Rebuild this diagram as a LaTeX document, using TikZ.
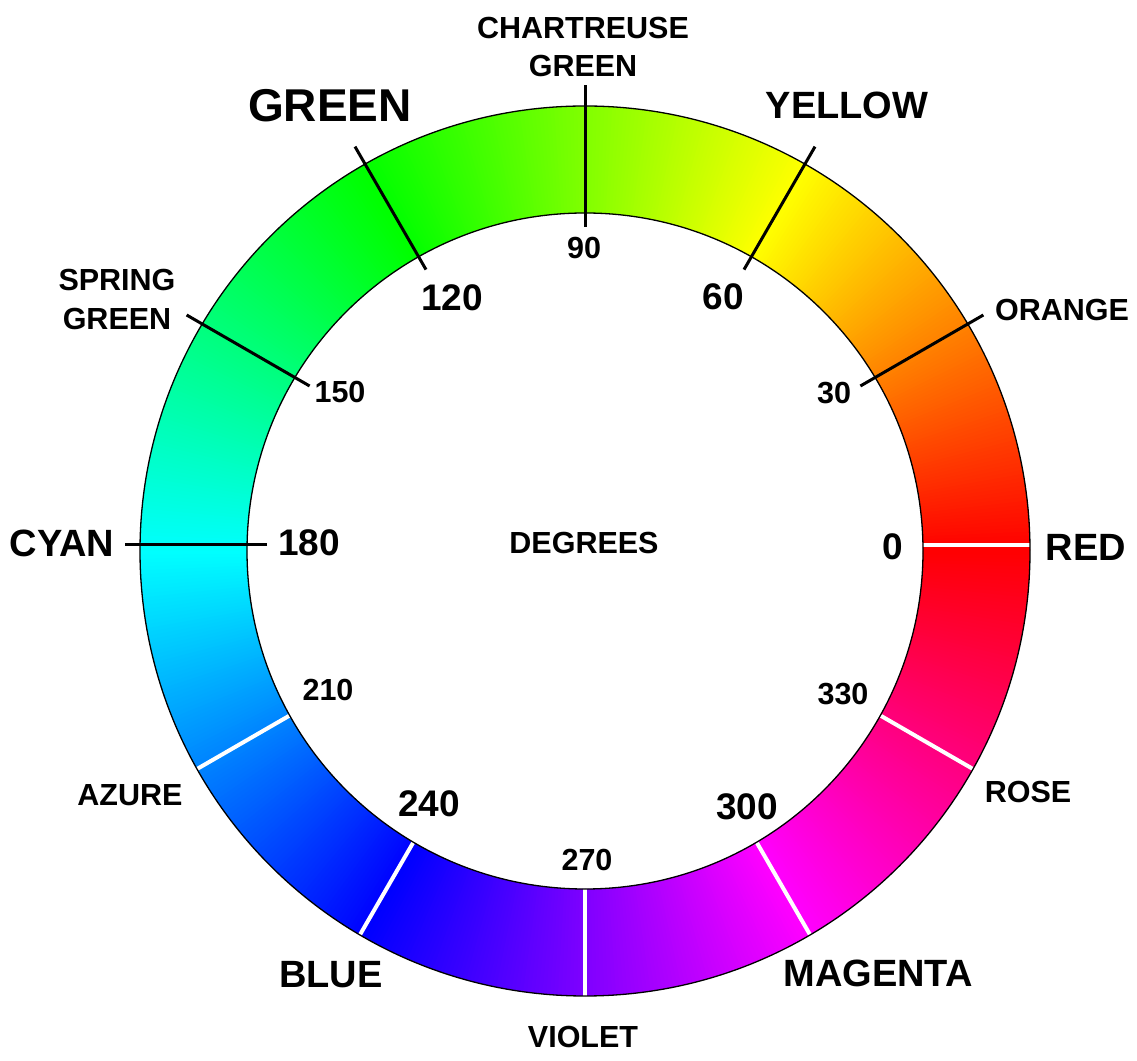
\documentclass[tikz,border=0pt]{standalone}
\usepackage{fontspec}
\setmainfont{Liberation Sans}
\usetikzlibrary{calc}
\begin{document}
\begin{tikzpicture}[x=1pt,y=1pt,
  lblS/.style={font=\fontsize{30.5}{32}\selectfont\bfseries, inner sep=0pt},
  lblN/.style={font=\fontsize{37}{40}\selectfont\bfseries, inner sep=0pt},
  lblB/.style={font=\fontsize{38}{40}\selectfont\bfseries, inner sep=0pt},
  lblG/.style={font=\fontsize{46}{48}\selectfont\bfseries, inner sep=0pt},
  tickline/.style={line width=3pt, black},
  sepline/.style={line width=4pt, white},
  rim/.style={line width=1.3pt, black}]
\fill[white] (0,0) rectangle (1137,1060);
\useasboundingbox (0,0) rectangle (1137,1060);
\coordinate (C) at (585,509);
\coordinate (T) at (585,515);
% hue ring
\begin{scope}[shift={(585,509)}]
\foreach \a in {0,0.5,...,359.5}{
  \definecolor{hc}{Hsb}{\a,1,1}
  \fill[hc] (\a:338) arc[start angle=\a, end angle={\a+0.7}, radius=338]
    -- ({\a+0.7}:445) arc[start angle={\a+0.7}, end angle=\a, radius=445] -- cycle;
}
\end{scope}
% white separators
\foreach \a/\n in {0/s0,210/s210,240/s240,270/s270,300/s300,330/s330}{
  \coordinate (\n i) at ($(T)+(\a:{338-6*sin(\a)})$);
  \coordinate (\n o) at ($(T)+(\a:{445-6*sin(\a)})$);
  \draw[sepline] (\n i) -- (\n o);
}
% rims
\draw[rim] (C) circle[radius=338];
\draw[rim] (C) circle[radius=445];
% black ticks
\foreach \a in {30,60,90,120,150,180}{
  \coordinate (k\a i) at ($(T)+(\a:318)$);
  \coordinate (k\a o) at ($(T)+(\a:460)$);
  \draw[tickline] (k\a i) -- (k\a o);
}
% labels
\node[lblS] (chart1) at (583,1032) {CHARTREUSE};
\node[lblS] (chart2) at (583,994) {GREEN};
\node[lblG] (green) at (330,954) {GREEN};
\node[lblB] (yellow) at (847,955) {YELLOW};
\node[lblN] (n120) at (452,762) {120};
\node[lblS] (n90) at (584,812) {90};
\node[lblN] (n60) at (723,763) {60};
\node[lblS] (orange) at (1062,750) {ORANGE};
\node[lblS] (n30) at (834,667) {30};
\node[lblN] (n0) at (893,513) {0};
\node[lblB] (red) at (1086,513) {RED};
\node[lblS] (spring1) at (117,780) {SPRING};
\node[lblS] (spring2) at (117,741) {GREEN};
\node[lblS] (n150) at (340,668) {150};
\node[lblB] (cyan) at (62,517) {CYAN};
\node[lblN] (n180) at (309,517) {180};
\node[lblS] (degrees) at (584,517) {DEGREES};
\node[lblS] (n210) at (328,370) {210};
\node[lblS] (azure) at (130,265) {AZURE};
\node[lblN] (n240) at (429,256) {240};
\node[lblB] (blue) at (331,85) {BLUE};
\node[lblS] (n270) at (587,200) {270};
\node[lblS] (violet) at (583,23) {VIOLET};
\node[lblN] (n300) at (747,253) {300};
\node[lblB] (magenta) at (878,87) {MAGENTA};
\node[lblS] (n330) at (843,366) {330};
\node[lblS] (rose) at (1028,268) {ROSE};
\end{tikzpicture}
\end{document}
